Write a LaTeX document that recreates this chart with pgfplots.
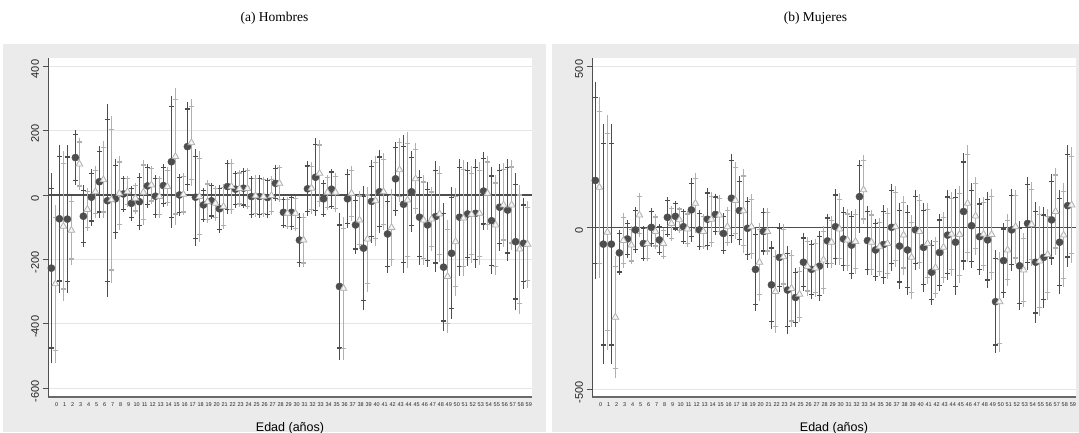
\documentclass[border=0pt]{standalone}
\usepackage{pgfplots}
\pgfplotsset{compat=1.18}
\usepackage{pgfplotstable}
\usepackage{fontspec}
\setmainfont{Liberation Sans}
\newfontfamily\seriffont{Liberation Serif}
\definecolor{panelbg}{HTML}{EBEBEB}
\definecolor{dkc}{HTML}{4D4D4D}
\definecolor{ltc}{HTML}{B0B0B0}
\definecolor{gridc}{HTML}{E6E6E6}
\definecolor{axc}{HTML}{505050}

% x = age, c = dark estimate, ce = 95% half-width, cc = 90% half-width; t = light series
\pgfplotstableread{
x c ce cc t te tc
0 -227 295 248 -276 245 206
1 -74 230 193 -97 232 195
2 -75 230 193 -110 106 89
3 116 86 72 96 81 68
4 -66 97 81 -45 66 55
5 -7 88 74 10 80 67
6 41 112 94 47 119 100
7 -18 299 251 -15 259 218
8 -12 124 104 5 115 97
9 3 57 48 10 48 40
10 -26 54 45 -10 48 40
11 -21 89 75 8 101 85
12 28 68 57 31 60 50
13 -4 67 56 -5 65 55
14 29 67 56 26 60 50
15 103 205 172 119 212 178
16 0 65 55 2 65 55
17 150 139 117 162 135 113
18 -7 151 127 -5 140 118
19 -31 52 44 -21 66 55
20 -18 56 47 -26 54 45
21 -43 75 63 -36 71 60
22 26 84 71 26 86 72
23 18 57 48 20 57 48
24 21 62 52 20 65 55
25 -5 65 55 -3 65 55
26 -5 67 56 -5 62 52
27 -8 62 52 -2 60 50
28 36 56 47 36 58 49
29 -54 48 40 -57 50 42
30 -54 54 45 -57 55 46
31 -140 83 70 -140 85 71
32 19 85 71 21 80 67
33 55 121 102 67 105 88
34 -12 57 48 8 55 46
35 18 63 53 8 60 50
36 -284 227 191 -290 222 186
37 -12 91 76 5 85 71
38 -93 89 75 -78 89 75
39 -165 193 162 -137 163 137
40 -20 130 109 -18 140 118
41 10 129 108 10 120 101
42 -121 120 101 -101 118 99
43 50 115 97 78 100 84
44 -29 214 180 -16 210 176
45 10 126 106 50 110 92
46 -69 147 123 -78 140 118
47 -93 132 111 -75 100 84
48 -67 172 144 -59 150 126
49 -224 199 167 -253 174 146
50 -181 205 172 -145 167 140
51 -69 182 153 -72 180 151
52 -59 161 135 -60 150 126
53 -57 170 143 -57 160 134
54 12 122 102 5 115 97
55 -80 166 139 -93 155 130
56 -38 135 113 -31 130 109
57 -47 158 133 -31 140 118
58 -145 212 178 -168 200 168
59 -150 142 119 -153 135 113
}\dataA

\pgfplotstableread{
x c ce cc t te tc
0 146 305 256 125 280 235
1 -51 371 312 -14 363 305
2 -51 371 312 -277 188 158
3 -78 70 59 -40 85 71
4 -35 58 49 -54 58 49
5 -7 72 60 39 68 57
6 -49 55 46 -49 55 46
7 1 60 50 -12 54 45
8 -38 48 40 -49 48 40
9 32 62 52 13 55 46
10 35 46 39 24 40 34
11 3 55 46 -4 55 46
12 55 98 82 75 93 78
13 -7 61 51 -12 55 46
14 26 96 81 26 85 71
15 41 64 54 39 62 52
16 -18 63 53 3 60 50
17 91 138 116 84 120 101
18 53 106 89 52 129 108
19 -2 98 82 3 100 84
20 -129 129 108 -107 120 101
21 -12 72 60 -12 72 60
22 -177 136 114 -198 129 108
23 -92 107 90 -90 100 84
24 -193 135 113 -188 120 101
25 -216 92 77 -206 85 71
26 -107 89 75 -120 90 76
27 -129 92 77 -125 90 76
28 -119 108 91 -100 105 88
29 -41 84 71 -45 80 67
30 3 117 98 -4 110 92
31 -35 99 83 -38 95 80
32 -54 105 88 -43 100 84
33 96 114 96 117 107 90
34 -40 106 89 -45 100 84
35 -69 96 81 -59 90 76
36 -52 122 102 -49 110 92
37 1 135 113 3 125 105
38 -57 132 111 -23 122 102
39 -69 138 116 -92 130 109
40 -7 124 104 -12 115 97
41 -61 137 115 -49 125 105
42 -138 100 84 -124 95 80
43 -77 120 101 -61 110 92
44 -23 140 118 -20 130 109
45 -45 164 138 -21 150 126
46 50 182 153 75 180 151
47 6 131 110 36 120 101
48 -28 120 101 -20 115 97
49 -38 148 124 -21 140 118
50 -229 159 134 -229 155 130
51 -102 117 98 -69 110 92
52 -7 126 106 3 115 97
53 -118 138 116 -131 115 97
54 13 143 120 10 130 109
55 -107 187 157 -103 170 143
56 -92 156 131 -83 140 118
57 24 141 118 50 135 113
58 -45 161 135 -23 160 134
59 68 189 159 70 180 151
}\dataB

\pgfplotsset{
  stpanel/.style={
    width=484pt, height=338.4pt, scale only axis,
    xmin=-1.07, xmax=59.4,
    axis background/.style={fill=white},
    axis x line*=bottom, axis y line*=left,
    x axis line style={draw=axc!85, line width=1.6pt, -},
    y axis line style={draw=axc, line width=0.9pt, -},
    xtick={0,...,59},
    xticklabel style={font=\fontsize{5.5}{6}\selectfont, text=black!85, inner sep=1pt, yshift=1pt},
    xtick style={draw=none},
    ytick style={draw=axc, line width=0.9pt},
    tick align=outside, major tick length=5.5pt,
    ymajorgrids, grid style={draw=gridc, line width=1pt},
    yticklabel style={rotate=90, anchor=south, font=\fontsize{11}{12}\selectfont, text=black!85, xshift=-3pt},
    xlabel={Edad (años)},
    xlabel style={at={(axis description cs:0.5,0)}, anchor=base, yshift=-34.8pt, font=\fontsize{12.5}{14}\selectfont},
    /pgf/number format/assume math mode=true,
  },
  cibar/.style={#1, only marks, mark=none, forget plot,
    error bars/.cd, y dir=both, y explicit, error mark=none,
    error bar style={#1, line width=1.5pt}},
  cicap/.style={#1, only marks, mark=none, forget plot,
    error bars/.cd, y dir=both, y explicit,
    error bar style={#1, line width=1.5pt},
    error mark options={rotate=90, #1, line width=1.2pt, mark size=2.5pt}},
  circ/.style={dkc, only marks, mark=*, mark size=3.6pt, mark options={solid, draw=dkc, fill=dkc}},
  tri/.style={ltc, only marks, mark=triangle*, mark size=3.9pt, mark options={solid, draw=ltc, fill=white!96!black, line width=0.75pt}},
}

\begin{document}
\begin{tikzpicture}[x=1pt,y=1pt]
\path[use as bounding box, fill=white] (0,0) rectangle (1079,432);
\fill[panelbg] (3,0) rectangle (546,388);
\fill[panelbg] (552,0) rectangle (1079,388);
\node[font=\seriffont\fontsize{13.5}{15}\selectfont] at (274.5,414) {(a) Hombres};
\node[font=\seriffont\fontsize{13.5}{15}\selectfont] at (815.5,414) {(b) Mujeres};

\begin{axis}[stpanel, at={(48pt,35.3pt)}, anchor=south west,
  ymin=-626, ymax=424, ytick={-600,-400,-200,0,200,400},
  yticklabels={-600,-400,-200,0,200,400}]
  \addplot[dkc, line width=1.3pt, forget plot] coordinates {(-1.07,0) (59.4,0)};
  \addplot[cibar=dkc] table[x expr=\thisrow{x}-0.65, y=c, y error=ce] {\dataA};
  \addplot[cicap=dkc] table[x expr=\thisrow{x}-0.65, y=c, y error=cc] {\dataA};
  \addplot[cibar=ltc] table[x expr=\thisrow{x}-0.15, y=t, y error=te] {\dataA};
  \addplot[cicap=ltc] table[x expr=\thisrow{x}-0.15, y=t, y error=tc] {\dataA};
  \addplot[circ] table[x expr=\thisrow{x}-0.65, y=c] {\dataA};
  \addplot[tri] table[x expr=\thisrow{x}-0.15, y=t] {\dataA};
\end{axis}

\begin{axis}[stpanel, at={(592pt,35.3pt)}, anchor=south west,
  ymin=-523, ymax=524, ytick={-500,0,500},
  yticklabels={-500,0,500}]
  \addplot[dkc, line width=1.3pt, forget plot] coordinates {(-1.07,0) (59.4,0)};
  \addplot[cibar=dkc] table[x expr=\thisrow{x}-0.65, y=c, y error=ce] {\dataB};
  \addplot[cicap=dkc] table[x expr=\thisrow{x}-0.65, y=c, y error=cc] {\dataB};
  \addplot[cibar=ltc] table[x expr=\thisrow{x}-0.15, y=t, y error=te] {\dataB};
  \addplot[cicap=ltc] table[x expr=\thisrow{x}-0.15, y=t, y error=tc] {\dataB};
  \addplot[circ] table[x expr=\thisrow{x}-0.65, y=c] {\dataB};
  \addplot[tri] table[x expr=\thisrow{x}-0.15, y=t] {\dataB};
\end{axis}
\end{tikzpicture}
\end{document}
